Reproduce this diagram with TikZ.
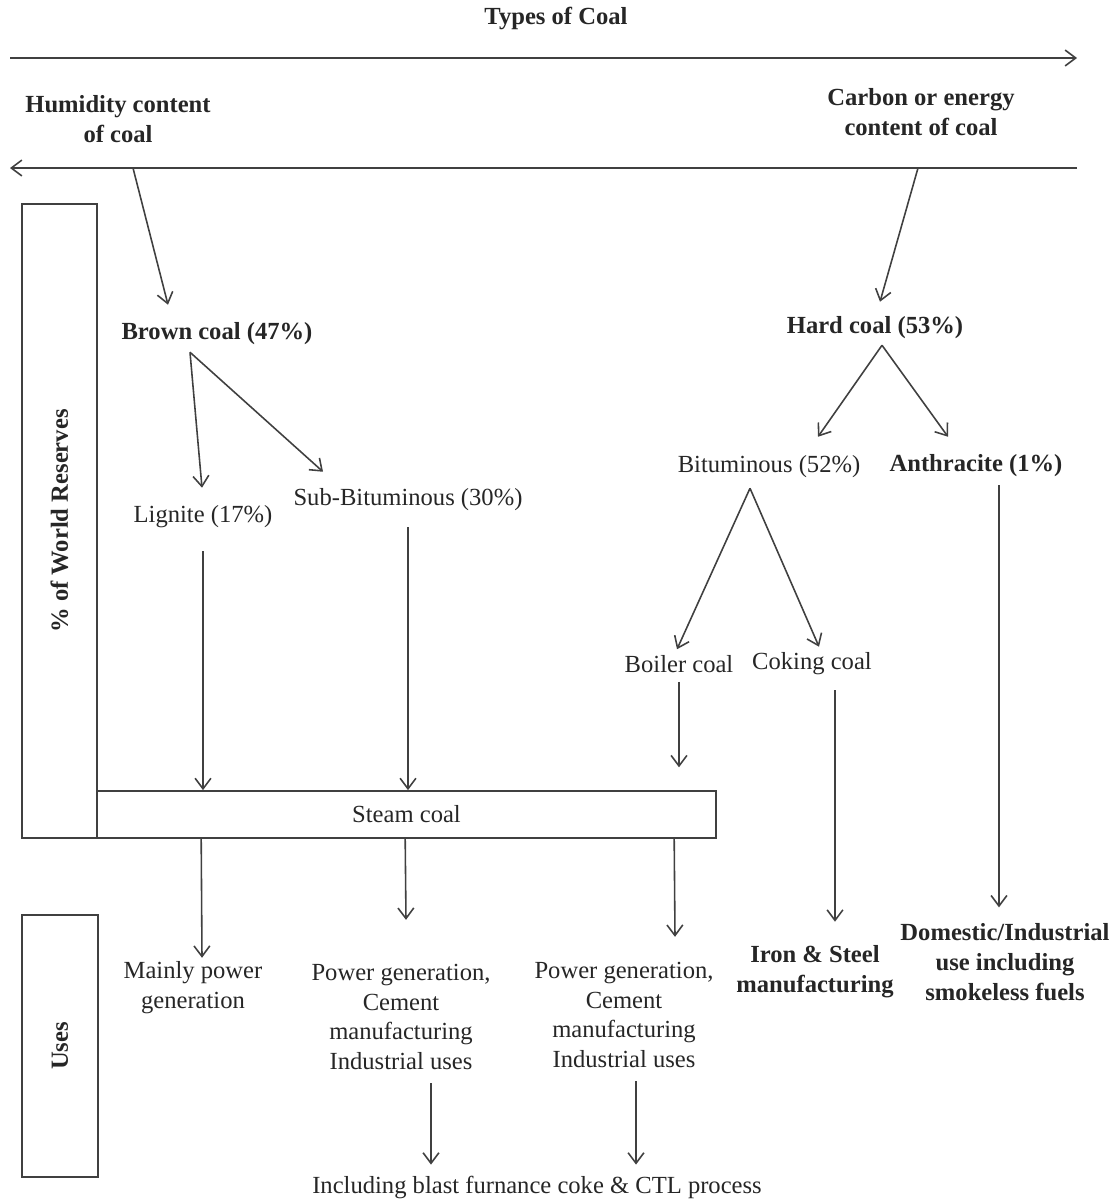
\documentclass[tikz,border=0pt]{standalone}
\usepackage{fontspec}
\setmainfont{Liberation Serif}
\usetikzlibrary{arrows.meta,calc}

\tikzset{
  lbl/.style={font=\fontsize{14}{17}\selectfont, text=black!85, inner sep=1pt, align=center},
  blbl/.style={lbl, font=\fontsize{14}{17}\selectfont\bfseries},
  arr/.style={draw=black!75, line width=0.9pt, -{Straight Barb[length=6pt,width=9pt]}},
  box/.style={draw=black!75, line width=1pt, inner sep=0pt}
}

\begin{document}
\begin{tikzpicture}[x=0.02cm,y=-0.02cm]
\useasboundingbox (0,0) rectangle (1117,1200);

\node[blbl] (Types) at (556,18) {Types of Coal};
\node[blbl] (Hum) at (118,119) {Humidity content\\of coal};
\node[blbl] (Carb) at (921,112) {Carbon or energy\\content of coal};
\coordinate (TL) at (10,58);
\coordinate (TR) at (1077,58);
\coordinate (BR) at (1077,168);
\coordinate (BL) at (10,168);
\coordinate (H1) at (133,168);
\coordinate (H2) at (918,168);
\draw[arr] (TL) -- (TR);
\draw[arr] (BR) -- (BL);

\node[blbl, box, rotate=90, minimum width=12.68cm, minimum height=1.5cm] (Res) at (59.5,521) {\% of World Reserves};
\node[lbl, box, minimum width=12.38cm, minimum height=0.94cm] (Steam) at (406.5,814.5) {Steam coal};
\node[blbl, box, rotate=90, minimum width=5.24cm, minimum height=1.52cm] (Uses) at (60,1046) {Uses};

\node[blbl] (Brown) at (217,334) {Brown coal (47\%)};
\node[blbl] (Hard) at (875,328) {Hard coal (53\%)};
\node[lbl] (Lig) at (203,517) {Lignite (17\%)};
\node[lbl] (Sub) at (408,500) {Sub-Bituminous (30\%)};
\node[lbl] (Bit) at (769,467) {Bituminous (52\%)};
\node[blbl] (Anth) at (976,466) {Anthracite (1\%)};
\node[lbl] (Boil) at (679,664) {Boiler coal};
\node[lbl] (Cok) at (812,664) {Coking coal};
\node[lbl] (Main) at (193,988) {Mainly power\\generation};
\node[lbl] (PowA) at (401,1017) {Power generation,\\Cement\\manufacturing\\Industrial uses};
\node[lbl] (PowB) at (624,1015) {Power generation,\\Cement\\manufacturing\\Industrial uses};
\node[blbl] (Iron) at (815,972) {Iron \& Steel\\manufacturing};
\node[blbl] (Dom) at (1005,962) {Domestic/Industrial\\use including\\smokeless fuels};
\node[lbl] (Incl) at (537,1187) {Including blast furnance coke \& CTL process};

\draw[arr] (H1) -- ($(Brown.north)+(-49,-16)$);
\draw[arr] (H2) -- ($(Hard.north)+(5,-13)$);
\draw[arr] ($(Brown.south)+(-27,5)$) -- ($(Lig.north)+(-1,-16)$);
\draw[arr] ($(Brown.south)+(-27,5)$) -- ($(Sub.north)+(-85,-15)$);
\draw[arr] ($(Hard.south)+(7,4)$) -- ($(Bit.north)+(49,-17)$);
\draw[arr] ($(Hard.south)+(7,4)$) -- ($(Anth.north)+(-28,-16)$);
\draw[arr] ($(Bit.south)+(-19,8)$) -- ($(Boil.north)+(-2,-4)$);
\draw[arr] ($(Bit.south)+(-19,8)$) -- ($(Cok.north)+(7,-4)$);

\draw[arr, shorten <=12pt] (Lig) -- (Lig |- Steam.north);
\draw[arr, shorten <=8pt] (Sub) -- (Sub |- Steam.north);
\draw[arr, shorten <=4pt, shorten >=13pt] (Boil) -- (Boil |- Steam.north);
\draw[arr] ($(Cok.south)+(23,13)$) -- ($(Iron.north)+(20,-22)$);
\draw[arr] ($(Anth.south)+(23,6)$) -- ($(Dom.north)+(-6,-14)$);

\draw[arr] ($(Steam.south west)+(105,0)$) -- ($(Main.north)+(9,-2)$);
\draw[arr] ($(Steam.south west)+(309,0)$) -- ($(PowA.north)+(5,-42)$);
\draw[arr] ($(Steam.south west)+(578,0)$) -- ($(PowB.north)+(51,-23)$);
\draw[arr] ($(PowA.south)+(30,11)$) -- ($(Incl.north)+(-106,-9)$);
\draw[arr] ($(PowB.south)+(12,11)$) -- ($(Incl.north)+(99,-9)$);
\end{tikzpicture}
\end{document}
